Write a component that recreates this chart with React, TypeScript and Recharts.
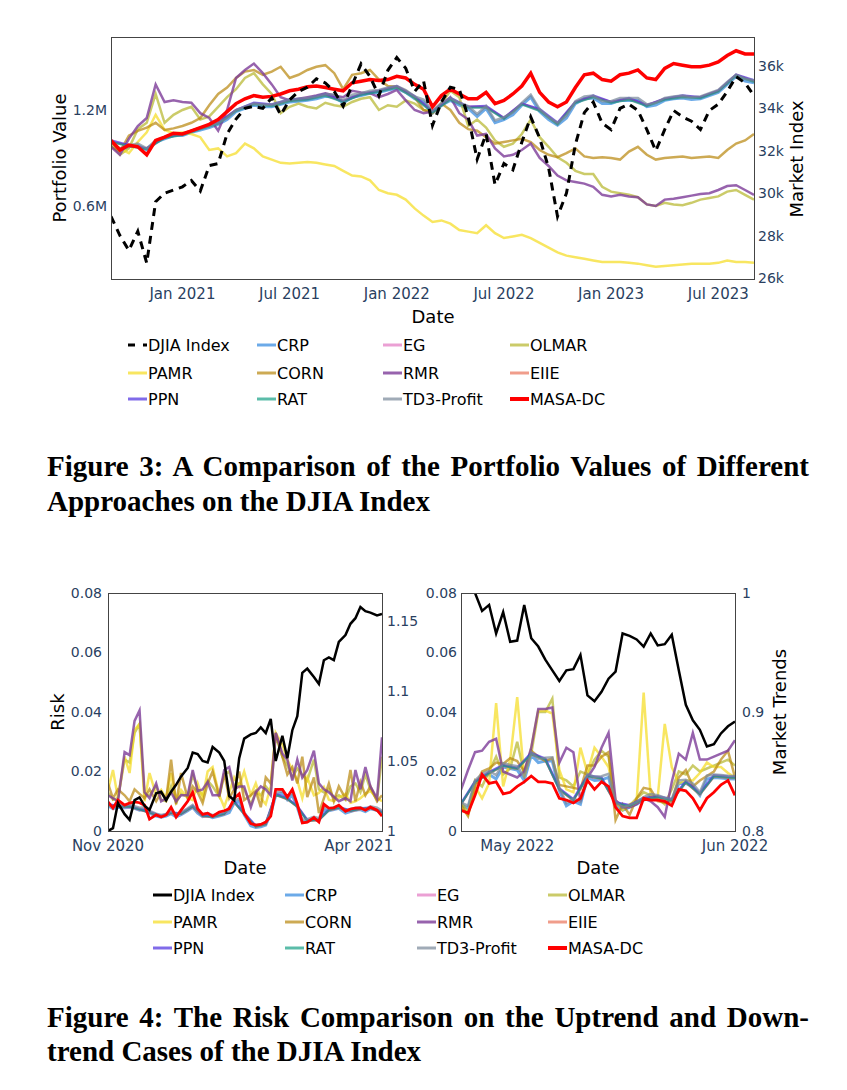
import { LineChart, Line, XAxis, YAxis } from "recharts";

const FONT = "'DejaVu Sans', sans-serif";
const TICK = "#2a3f5f";

// ---------- Figure 3: portfolio values (x = months since 1 Sep 2020) ----------
const monthsHalf = [0, 0.5, 1, 1.5, 2, 2.5, 3, 3.5, 4, 4.5, 5, 5.5, 6, 6.5, 7, 7.5, 8, 8.5, 9, 9.5, 10, 10.5, 11, 11.5, 12, 12.5, 13, 13.5, 14, 14.5, 15, 15.5, 16, 16.5, 17, 17.5, 18, 18.5, 19, 19.5, 20, 20.5, 21, 21.5, 22, 22.5, 23, 23.5, 24, 24.5, 25, 25.5, 26, 26.5, 27, 27.5, 28, 28.5, 29, 29.5, 30, 30.5, 31, 31.5, 32, 32.5, 33, 33.5, 34, 34.5, 35, 35.5, 36];
const monthsWhole = [0, 1, 2, 3, 4, 5, 6, 7, 8, 9, 10, 11, 12, 13, 14, 15, 16, 17, 18, 19, 20, 21, 22, 23, 24, 25, 26, 27, 28, 29, 30, 31, 32, 33, 34, 35, 36];
const dateTicks = [4, 10, 16, 22, 28, 34];
const dateTickLabels = ["Jan 2021", "Jul 2021", "Jan 2022", "Jul 2022", "Jan 2023", "Jul 2023"];
const valueTicks = [0.6, 1.2];
const indexTicks = [26, 28, 30, 32, 34, 36];

// DJIA in thousands, portfolio values in millions
const djiaT = [28.9, 28.0, 27.3, 28.2, 26.7, 29.6, 30.0, 30.15, 30.3, 30.6, 30.1, 31.3, 31.4, 32.8, 33.5, 34.0, 34.1, 34.0, 34.5, 33.7, 34.4, 34.8, 35.0, 35.4, 35.2, 34.8, 34.1, 35.1, 36.1, 35.5, 34.6, 35.8, 36.4, 35.9, 34.8, 35.3, 33.2, 34.3, 35.0, 34.9, 33.6, 31.6, 32.8, 30.4, 31.4, 31.1, 32.4, 33.6, 32.6, 31.2, 28.9, 30.0, 32.3, 33.8, 34.3, 33.3, 33.0, 34.0, 34.2, 33.9, 33.0, 32.0, 33.0, 33.9, 33.6, 33.4, 33.0, 33.9, 34.2, 34.8, 35.5, 35.2, 34.6];
const masaT = [1.01, 0.95, 0.98, 0.97, 0.92, 1.01, 1.03, 1.055, 1.05, 1.07, 1.09, 1.11, 1.14, 1.19, 1.24, 1.27, 1.29, 1.28, 1.285, 1.30, 1.32, 1.33, 1.345, 1.35, 1.34, 1.33, 1.32, 1.37, 1.38, 1.39, 1.385, 1.39, 1.41, 1.40, 1.36, 1.33, 1.22, 1.29, 1.33, 1.30, 1.27, 1.27, 1.31, 1.24, 1.26, 1.30, 1.35, 1.43, 1.31, 1.25, 1.22, 1.25, 1.34, 1.42, 1.43, 1.39, 1.38, 1.42, 1.43, 1.45, 1.40, 1.39, 1.46, 1.49, 1.48, 1.47, 1.47, 1.48, 1.50, 1.54, 1.57, 1.55, 1.55];
const crpT = [1.00, 0.95, 0.97, 0.98, 0.95, 1.00, 1.02, 1.04, 1.04, 1.06, 1.075, 1.09, 1.11, 1.14, 1.19, 1.21, 1.23, 1.22, 1.22, 1.235, 1.25, 1.255, 1.26, 1.27, 1.285, 1.28, 1.245, 1.28, 1.29, 1.305, 1.31, 1.325, 1.335, 1.31, 1.27, 1.25, 1.18, 1.23, 1.26, 1.23, 1.21, 1.16, 1.21, 1.12, 1.14, 1.17, 1.23, 1.28, 1.19, 1.14, 1.105, 1.15, 1.24, 1.27, 1.275, 1.24, 1.24, 1.26, 1.26, 1.26, 1.22, 1.23, 1.26, 1.27, 1.275, 1.265, 1.27, 1.29, 1.31, 1.36, 1.41, 1.38, 1.37];
const td3T = [1.00, 0.96, 0.98, 0.99, 0.96, 1.01, 1.03, 1.05, 1.05, 1.07, 1.09, 1.10, 1.12, 1.15, 1.20, 1.22, 1.24, 1.235, 1.235, 1.25, 1.265, 1.27, 1.275, 1.285, 1.30, 1.295, 1.26, 1.295, 1.305, 1.32, 1.325, 1.34, 1.35, 1.325, 1.285, 1.265, 1.195, 1.245, 1.275, 1.245, 1.225, 1.175, 1.225, 1.135, 1.155, 1.185, 1.245, 1.295, 1.205, 1.155, 1.12, 1.165, 1.255, 1.285, 1.29, 1.255, 1.255, 1.275, 1.275, 1.275, 1.235, 1.245, 1.275, 1.285, 1.29, 1.28, 1.285, 1.305, 1.325, 1.375, 1.42, 1.395, 1.385];
const egT = [1.00, 0.978, 0.958, 1.028, 1.048, 1.083, 1.118, 1.198, 1.238, 1.228, 1.258, 1.268, 1.293, 1.253, 1.298, 1.318, 1.343, 1.278, 1.188, 1.268, 1.218, 1.218, 1.148, 1.238, 1.198, 1.113, 1.248, 1.283, 1.248, 1.268, 1.228, 1.268, 1.283, 1.278, 1.318, 1.418, 1.378];
const eiieT = [1.00, 0.98, 0.96, 1.03, 1.05, 1.085, 1.12, 1.20, 1.24, 1.23, 1.26, 1.27, 1.295, 1.255, 1.30, 1.32, 1.345, 1.28, 1.19, 1.27, 1.22, 1.22, 1.15, 1.24, 1.20, 1.115, 1.25, 1.285, 1.25, 1.27, 1.23, 1.27, 1.285, 1.28, 1.32, 1.42, 1.38];
const ppnT = [1.01, 0.98, 0.96, 1.03, 1.05, 1.09, 1.12, 1.20, 1.245, 1.235, 1.265, 1.27, 1.30, 1.255, 1.30, 1.32, 1.35, 1.285, 1.19, 1.275, 1.22, 1.225, 1.15, 1.24, 1.205, 1.12, 1.25, 1.29, 1.25, 1.275, 1.23, 1.27, 1.29, 1.28, 1.32, 1.42, 1.385];
const ratT = [1.00, 0.974, 0.954, 1.024, 1.044, 1.079, 1.114, 1.194, 1.234, 1.224, 1.254, 1.264, 1.289, 1.249, 1.294, 1.314, 1.339, 1.274, 1.184, 1.264, 1.214, 1.214, 1.144, 1.234, 1.194, 1.109, 1.244, 1.279, 1.244, 1.264, 1.224, 1.264, 1.279, 1.274, 1.314, 1.414, 1.374];
const olmarT = [0.99, 0.92, 0.96, 1.08, 1.12, 1.30, 1.12, 1.17, 1.20, 1.22, 1.14, 1.16, 1.22, 1.28, 1.33, 1.40, 1.43, 1.36, 1.30, 1.18, 1.22, 1.24, 1.22, 1.21, 1.245, 1.23, 1.22, 1.25, 1.27, 1.28, 1.20, 1.23, 1.22, 1.26, 1.24, 1.20, 1.19, 1.24, 1.32, 1.28, 1.10, 1.14, 1.09, 1.01, 0.97, 0.99, 1.05, 1.14, 1.03, 0.97, 0.905, 0.87, 0.82, 0.80, 0.80, 0.72, 0.69, 0.68, 0.67, 0.655, 0.61, 0.60, 0.62, 0.61, 0.605, 0.62, 0.64, 0.65, 0.66, 0.69, 0.70, 0.67, 0.64];
const pamrT = [1.00, 0.96, 0.93, 1.00, 1.06, 1.17, 1.075, 1.055, 1.06, 1.05, 1.03, 0.95, 0.96, 0.91, 0.93, 0.99, 0.96, 0.91, 0.89, 0.87, 0.865, 0.87, 0.875, 0.87, 0.86, 0.85, 0.82, 0.79, 0.785, 0.76, 0.70, 0.68, 0.67, 0.64, 0.585, 0.54, 0.50, 0.51, 0.49, 0.45, 0.44, 0.43, 0.48, 0.43, 0.40, 0.41, 0.42, 0.40, 0.37, 0.34, 0.31, 0.29, 0.28, 0.27, 0.26, 0.25, 0.25, 0.25, 0.245, 0.24, 0.23, 0.22, 0.225, 0.23, 0.235, 0.24, 0.24, 0.24, 0.245, 0.26, 0.25, 0.25, 0.245];
const cornT = [0.97, 0.94, 1.04, 1.07, 1.09, 1.12, 1.075, 1.085, 1.10, 1.12, 1.15, 1.23, 1.30, 1.34, 1.40, 1.44, 1.45, 1.42, 1.44, 1.47, 1.40, 1.42, 1.45, 1.47, 1.48, 1.43, 1.33, 1.42, 1.43, 1.45, 1.39, 1.35, 1.345, 1.32, 1.28, 1.20, 1.18, 1.24, 1.20, 1.12, 1.08, 1.07, 1.03, 0.99, 1.00, 1.01, 1.02, 1.00, 0.95, 0.92, 0.905, 0.93, 0.96, 0.91, 0.90, 0.905, 0.90, 0.89, 0.94, 0.97, 0.92, 0.89, 0.90, 0.905, 0.91, 0.90, 0.905, 0.91, 0.90, 0.95, 0.99, 1.01, 1.05];
const rmrT = [0.97, 0.92, 1.02, 1.10, 1.15, 1.36, 1.25, 1.26, 1.25, 1.245, 1.18, 1.15, 1.07, 1.20, 1.40, 1.45, 1.49, 1.43, 1.36, 1.28, 1.26, 1.27, 1.28, 1.29, 1.305, 1.29, 1.28, 1.32, 1.31, 1.305, 1.28, 1.30, 1.325, 1.26, 1.20, 1.18, 1.19, 1.23, 1.28, 1.18, 1.14, 1.04, 1.05, 0.96, 0.91, 0.92, 0.95, 0.99, 0.90, 0.85, 0.79, 0.76, 0.75, 0.74, 0.72, 0.67, 0.66, 0.67, 0.66, 0.655, 0.61, 0.60, 0.64, 0.645, 0.655, 0.665, 0.675, 0.68, 0.70, 0.725, 0.73, 0.70, 0.67];

// ---------- Figure 4 (left): uptrend, x = days since 1 Nov 2020 ----------
const daysL = [0, 3, 6, 10, 13, 16, 19, 22, 25, 29, 32, 35, 38, 41, 44, 48, 51, 54, 57, 60, 63, 67, 70, 73, 76, 79, 82, 86, 89, 92, 95, 98, 101, 105, 108, 111, 114, 117, 120, 124, 127, 130, 133, 136, 139, 143, 146, 149, 152, 155, 158, 162, 165];
const daysL2 = [0, 6, 13, 19, 25, 32, 38, 44, 51, 57, 63, 70, 76, 82, 89, 95, 101, 108, 114, 120, 127, 133, 139, 146, 152, 158, 165];
const upTicks = [0, 151];
const upTickLabels = ["Nov 2020", "Apr 2021"];
const riskTicks = [0, 0.02, 0.04, 0.06, 0.08];
const upTrendTicks = [1, 1.05, 1.1, 1.15];

const djiaL = [1.000, 1.002, 1.020, 1.012, 1.008, 1.022, 1.024, 1.018, 1.015, 1.027, 1.028, 1.022, 1.028, 1.033, 1.039, 1.045, 1.056, 1.055, 1.050, 1.049, 1.060, 1.056, 1.050, 1.025, 1.022, 1.052, 1.066, 1.069, 1.070, 1.074, 1.070, 1.080, 1.050, 1.068, 1.052, 1.072, 1.082, 1.113, 1.116, 1.110, 1.105, 1.122, 1.124, 1.122, 1.135, 1.140, 1.148, 1.152, 1.160, 1.157, 1.156, 1.154, 1.155];
const masaL = [0.0098, 0.0077, 0.0104, 0.0087, 0.0094, 0.0098, 0.0095, 0.0087, 0.0040, 0.0054, 0.0047, 0.0054, 0.0080, 0.0047, 0.0070, 0.0100, 0.0130, 0.0075, 0.0056, 0.0060, 0.0050, 0.0064, 0.0068, 0.0075, 0.0110, 0.0125, 0.0060, 0.0025, 0.0020, 0.0022, 0.0030, 0.0050, 0.0140, 0.0140, 0.0114, 0.0140, 0.0090, 0.0027, 0.0030, 0.0045, 0.0030, 0.0090, 0.0077, 0.0078, 0.0087, 0.0066, 0.0074, 0.0077, 0.0078, 0.0070, 0.0080, 0.0070, 0.0050];
const crpL = [0.0085, 0.0075, 0.0080, 0.0078, 0.0080, 0.0076, 0.0070, 0.0072, 0.0060, 0.0050, 0.0046, 0.0050, 0.0058, 0.0048, 0.0055, 0.0068, 0.0080, 0.0060, 0.0048, 0.0052, 0.0045, 0.0050, 0.0055, 0.0062, 0.0095, 0.0100, 0.0055, 0.0018, 0.0012, 0.0014, 0.0020, 0.0060, 0.0120, 0.0128, 0.0105, 0.0120, 0.0080, 0.0030, 0.0032, 0.0040, 0.0035, 0.0070, 0.0068, 0.0072, 0.0076, 0.0060, 0.0065, 0.0070, 0.0072, 0.0065, 0.0075, 0.0070, 0.0060];
const td3L = [0.0092, 0.0082, 0.0088, 0.0086, 0.0088, 0.0083, 0.0078, 0.0080, 0.0068, 0.0058, 0.0054, 0.0057, 0.0066, 0.0056, 0.0063, 0.0076, 0.0088, 0.0068, 0.0056, 0.0060, 0.0053, 0.0058, 0.0063, 0.0070, 0.0103, 0.0108, 0.0063, 0.0026, 0.0020, 0.0022, 0.0028, 0.0068, 0.0128, 0.0136, 0.0113, 0.0128, 0.0088, 0.0038, 0.0040, 0.0048, 0.0043, 0.0078, 0.0076, 0.0080, 0.0084, 0.0068, 0.0073, 0.0078, 0.0080, 0.0073, 0.0083, 0.0078, 0.0068];
const egL = [0.0088, 0.0082, 0.0079, 0.0072, 0.0062, 0.0049, 0.0060, 0.0057, 0.0082, 0.0050, 0.0048, 0.0057, 0.0097, 0.0058, 0.0015, 0.0023, 0.0122, 0.0108, 0.0082, 0.0035, 0.0037, 0.0070, 0.0078, 0.0067, 0.0074, 0.0077, 0.0062];
const eiieL = [0.0086, 0.0081, 0.0082, 0.0071, 0.0061, 0.0048, 0.0059, 0.0056, 0.0081, 0.0049, 0.0047, 0.0056, 0.0096, 0.0057, 0.0014, 0.0022, 0.0121, 0.0106, 0.0081, 0.0034, 0.0036, 0.0069, 0.0077, 0.0066, 0.0073, 0.0076, 0.0061];
const ppnL = [0.0090, 0.0084, 0.0083, 0.0074, 0.0064, 0.0051, 0.0062, 0.0059, 0.0084, 0.0052, 0.0050, 0.0059, 0.0099, 0.0060, 0.0017, 0.0025, 0.0124, 0.0110, 0.0084, 0.0037, 0.0039, 0.0072, 0.0080, 0.0069, 0.0076, 0.0079, 0.0064];
const ratL = [0.0087, 0.0082, 0.0081, 0.0072, 0.0062, 0.0048, 0.0060, 0.0057, 0.0082, 0.0050, 0.0047, 0.0057, 0.0097, 0.0057, 0.0014, 0.0022, 0.0122, 0.0107, 0.0082, 0.0034, 0.0037, 0.0070, 0.0078, 0.0067, 0.0074, 0.0077, 0.0062];
const olmarL = [0.0130, 0.0105, 0.0110, 0.0240, 0.0230, 0.0330, 0.0360, 0.0120, 0.0120, 0.0150, 0.0105, 0.0100, 0.0150, 0.0095, 0.0125, 0.0115, 0.0190, 0.0140, 0.0120, 0.0170, 0.0150, 0.0115, 0.0190, 0.0200, 0.0140, 0.0160, 0.0140, 0.0090, 0.0130, 0.0120, 0.0150, 0.0130, 0.0320, 0.0250, 0.0220, 0.0180, 0.0210, 0.0190, 0.0170, 0.0240, 0.0140, 0.0130, 0.0140, 0.0110, 0.0120, 0.0105, 0.0150, 0.0160, 0.0130, 0.0190, 0.0140, 0.0105, 0.0250];
const pamrL = [0.0138, 0.0205, 0.0110, 0.0250, 0.0195, 0.0340, 0.0360, 0.0100, 0.0195, 0.0120, 0.0138, 0.0110, 0.0195, 0.0100, 0.0138, 0.0110, 0.0104, 0.0160, 0.0110, 0.0200, 0.0215, 0.0120, 0.0080, 0.0130, 0.0180, 0.0150, 0.0200, 0.0120, 0.0160, 0.0110, 0.0090, 0.0150, 0.0330, 0.0290, 0.0240, 0.0205, 0.0170, 0.0110, 0.0180, 0.0120, 0.0128, 0.0148, 0.0105, 0.0100, 0.0112, 0.0125, 0.0095, 0.0100, 0.0110, 0.0125, 0.0135, 0.0110, 0.0100];
const cornL = [0.0160, 0.0110, 0.0140, 0.0120, 0.0100, 0.0140, 0.0125, 0.0110, 0.0140, 0.0100, 0.0130, 0.0105, 0.0240, 0.0090, 0.0195, 0.0110, 0.0150, 0.0130, 0.0094, 0.0160, 0.0200, 0.0115, 0.0195, 0.0110, 0.0140, 0.0200, 0.0104, 0.0120, 0.0135, 0.0080, 0.0180, 0.0160, 0.0330, 0.0250, 0.0190, 0.0215, 0.0160, 0.0250, 0.0114, 0.0180, 0.0060, 0.0110, 0.0160, 0.0100, 0.0150, 0.0110, 0.0205, 0.0100, 0.0165, 0.0120, 0.0150, 0.0100, 0.0120];
const rmrL = [0.0120, 0.0110, 0.0100, 0.0265, 0.0255, 0.0370, 0.0405, 0.0130, 0.0110, 0.0160, 0.0100, 0.0110, 0.0130, 0.0100, 0.0120, 0.0120, 0.0205, 0.0135, 0.0140, 0.0165, 0.0120, 0.0120, 0.0205, 0.0215, 0.0140, 0.0150, 0.0150, 0.0080, 0.0130, 0.0150, 0.0140, 0.0120, 0.0330, 0.0260, 0.0240, 0.0170, 0.0240, 0.0180, 0.0205, 0.0270, 0.0160, 0.0140, 0.0130, 0.0115, 0.0100, 0.0110, 0.0100, 0.0205, 0.0140, 0.0215, 0.0150, 0.0110, 0.0315];

// ---------- Figure 4 (right): downtrend, x = days since 23 Apr 2022 ----------
const daysR = [0, 1, 2, 3, 4, 5, 6, 7, 8, 9, 10, 11, 12, 13, 14, 15, 16, 17, 18, 19, 20, 21, 22, 23, 24, 25, 26, 27, 28, 29, 30, 31, 32, 33, 34, 35, 36, 37, 38, 39];
const daysR2 = [0, 2, 4, 6, 8, 10, 12, 14, 16, 18, 20, 22, 24, 26, 28, 30, 32, 34, 36, 38, 39];
const downTicks = [8, 39];
const downTickLabels = ["May 2022", "Jun 2022"];
const downTrendTicks = [0.8, 0.9, 1];

const djiaR = [1.020, 1.010, 1.000, 0.985, 0.990, 0.966, 0.984, 0.959, 0.960, 0.990, 0.962, 0.955, 0.944, 0.935, 0.926, 0.935, 0.936, 0.948, 0.914, 0.909, 0.917, 0.928, 0.934, 0.966, 0.964, 0.961, 0.955, 0.966, 0.956, 0.957, 0.965, 0.935, 0.906, 0.893, 0.885, 0.871, 0.873, 0.882, 0.888, 0.892];
const masaR = [0.0070, 0.0060, 0.0120, 0.0190, 0.0160, 0.0165, 0.0125, 0.0130, 0.0150, 0.0165, 0.0185, 0.0165, 0.0165, 0.0160, 0.0110, 0.0104, 0.0094, 0.0110, 0.0170, 0.0140, 0.0165, 0.0150, 0.0080, 0.0050, 0.0044, 0.0044, 0.0110, 0.0104, 0.0104, 0.0100, 0.0085, 0.0140, 0.0135, 0.0110, 0.0070, 0.0110, 0.0130, 0.0155, 0.0170, 0.0120];
const crpR = [0.0087, 0.0077, 0.0160, 0.0180, 0.0190, 0.0175, 0.0215, 0.0210, 0.0205, 0.0170, 0.0255, 0.0230, 0.0235, 0.0235, 0.0135, 0.0085, 0.0100, 0.0090, 0.0180, 0.0170, 0.0172, 0.0180, 0.0090, 0.0070, 0.0080, 0.0090, 0.0104, 0.0114, 0.0110, 0.0104, 0.0100, 0.0160, 0.0160, 0.0150, 0.0120, 0.0175, 0.0180, 0.0178, 0.0176, 0.0175];
const td3R = [0.0095, 0.0085, 0.0170, 0.0192, 0.0202, 0.0188, 0.0228, 0.0222, 0.0218, 0.0182, 0.0265, 0.0242, 0.0246, 0.0248, 0.0146, 0.0094, 0.0110, 0.0098, 0.0192, 0.0182, 0.0184, 0.0192, 0.0100, 0.0078, 0.0088, 0.0098, 0.0114, 0.0124, 0.0120, 0.0112, 0.0108, 0.0170, 0.0172, 0.0160, 0.0130, 0.0186, 0.0190, 0.0188, 0.0186, 0.0185];
const egR = [0.0090, 0.0165, 0.0195, 0.0220, 0.0210, 0.0258, 0.0240, 0.0140, 0.0104, 0.0184, 0.0176, 0.0094, 0.0084, 0.0108, 0.0114, 0.0104, 0.0164, 0.0124, 0.0184, 0.0180, 0.0179];
const eiieR = [0.0089, 0.0163, 0.0193, 0.0218, 0.0208, 0.0257, 0.0238, 0.0138, 0.0102, 0.0183, 0.0175, 0.0092, 0.0082, 0.0106, 0.0112, 0.0102, 0.0162, 0.0122, 0.0182, 0.0178, 0.0177];
const ppnR = [0.0092, 0.0167, 0.0198, 0.0222, 0.0212, 0.0262, 0.0243, 0.0143, 0.0107, 0.0187, 0.0179, 0.0097, 0.0087, 0.0111, 0.0117, 0.0107, 0.0167, 0.0127, 0.0187, 0.0183, 0.0182];
const ratR = [0.0090, 0.0164, 0.0194, 0.0219, 0.0209, 0.0258, 0.0239, 0.0139, 0.0103, 0.0184, 0.0176, 0.0093, 0.0083, 0.0107, 0.0113, 0.0103, 0.0163, 0.0123, 0.0183, 0.0179, 0.0178];
const olmarR = [0.0100, 0.0060, 0.0170, 0.0150, 0.0200, 0.0250, 0.0190, 0.0210, 0.0300, 0.0190, 0.0260, 0.0400, 0.0400, 0.0445, 0.0180, 0.0170, 0.0150, 0.0200, 0.0190, 0.0240, 0.0270, 0.0250, 0.0090, 0.0080, 0.0085, 0.0110, 0.0130, 0.0120, 0.0110, 0.0090, 0.0140, 0.0200, 0.0190, 0.0220, 0.0200, 0.0210, 0.0220, 0.0230, 0.0240, 0.0220];
const pamrR = [0.0080, 0.0054, 0.0150, 0.0110, 0.0160, 0.0430, 0.0150, 0.0240, 0.0450, 0.0180, 0.0280, 0.0405, 0.0405, 0.0395, 0.0205, 0.0140, 0.0130, 0.0280, 0.0195, 0.0280, 0.0250, 0.0215, 0.0104, 0.0070, 0.0090, 0.0100, 0.0465, 0.0114, 0.0114, 0.0360, 0.0215, 0.0160, 0.0170, 0.0170, 0.0195, 0.0230, 0.0215, 0.0215, 0.0195, 0.0180];
const cornR = [0.0087, 0.0050, 0.0150, 0.0200, 0.0210, 0.0230, 0.0225, 0.0245, 0.0235, 0.0200, 0.0270, 0.0250, 0.0235, 0.0245, 0.0155, 0.0150, 0.0145, 0.0140, 0.0220, 0.0220, 0.0250, 0.0265, 0.0037, 0.0090, 0.0054, 0.0110, 0.0145, 0.0140, 0.0100, 0.0095, 0.0100, 0.0180, 0.0205, 0.0150, 0.0170, 0.0185, 0.0200, 0.0240, 0.0270, 0.0180];
const rmrR = [0.0138, 0.0205, 0.0265, 0.0270, 0.0300, 0.0310, 0.0200, 0.0190, 0.0180, 0.0200, 0.0280, 0.0410, 0.0410, 0.0415, 0.0230, 0.0280, 0.0265, 0.0100, 0.0180, 0.0215, 0.0280, 0.0330, 0.0104, 0.0080, 0.0080, 0.0090, 0.0110, 0.0100, 0.0080, 0.0047, 0.0165, 0.0260, 0.0240, 0.0330, 0.0240, 0.0240, 0.0250, 0.0260, 0.0270, 0.0305];

const legendRows = [
  ["DJIA Index", "CRP", "EG", "OLMAR"],
  ["PAMR", "CORN", "RMR", "EIIE"],
  ["PPN", "RAT", "TD3-Profit", "MASA-DC"],
];

// base colours; the baselines are drawn half-transparent so overlaps darken
const COLORS: Record<string, string> = {
  "DJIA Index": "#000000",
  CRP: "#2e86de",
  EG: "#e377c2",
  OLMAR: "#b5b52a",
  PAMR: "#f5dc1e",
  CORN: "#b8860b",
  RMR: "#7d3c98",
  EIIE: "#e9735a",
  PPN: "#4a2ce0",
  RAT: "#16a085",
  "TD3-Profit": "#778899",
  "MASA-DC": "#ff0000",
};
const OPACITY: Record<string, number> = { "DJIA Index": 1, "MASA-DC": 1, RMR: 0.8 };

type Series = { name: string; xs: number[]; ys: number[]; axis: string; width: number; dash?: string };

const pts = (xs: number[], ys: number[]) => xs.map((x, i) => ({ x, y: ys[i] }));

function drawLines(series: Series[]) {
  return series.map((s) => (
    <Line
      key={s.name}
      name={s.name}
      data={pts(s.xs, s.ys)}
      dataKey="y"
      yAxisId={s.axis}
      type="linear"
      stroke={COLORS[s.name]}
      strokeWidth={s.width}
      strokeOpacity={OPACITY[s.name] ?? 0.7}
      strokeDasharray={s.dash}
      dot={false}
      activeDot={false}
      isAnimationActive={false}
    />
  ));
}

const topSeries: Series[] = [
  { name: "CRP", xs: monthsHalf, ys: crpT, axis: "v", width: 3 },
  { name: "EG", xs: monthsWhole, ys: egT, axis: "v", width: 2.5 },
  { name: "OLMAR", xs: monthsHalf, ys: olmarT, axis: "v", width: 2.5 },
  { name: "PAMR", xs: monthsHalf, ys: pamrT, axis: "v", width: 2.5 },
  { name: "CORN", xs: monthsHalf, ys: cornT, axis: "v", width: 2.5 },
  { name: "RMR", xs: monthsHalf, ys: rmrT, axis: "v", width: 2.5 },
  { name: "EIIE", xs: monthsWhole, ys: eiieT, axis: "v", width: 2 },
  { name: "PPN", xs: monthsWhole, ys: ppnT, axis: "v", width: 2.5 },
  { name: "RAT", xs: monthsWhole, ys: ratT, axis: "v", width: 2 },
  { name: "TD3-Profit", xs: monthsHalf, ys: td3T, axis: "v", width: 2.5 },
  { name: "MASA-DC", xs: monthsHalf, ys: masaT, axis: "v", width: 3.5 },
  { name: "DJIA Index", xs: monthsHalf, ys: djiaT, axis: "m", width: 3, dash: "8 6" },
];

const upSeries: Series[] = [
  { name: "CRP", xs: daysL, ys: crpL, axis: "r", width: 3 },
  { name: "EG", xs: daysL2, ys: egL, axis: "r", width: 2.5 },
  { name: "OLMAR", xs: daysL, ys: olmarL, axis: "r", width: 2.5 },
  { name: "PAMR", xs: daysL, ys: pamrL, axis: "r", width: 2.5 },
  { name: "CORN", xs: daysL, ys: cornL, axis: "r", width: 2.5 },
  { name: "RMR", xs: daysL, ys: rmrL, axis: "r", width: 2.5 },
  { name: "EIIE", xs: daysL2, ys: eiieL, axis: "r", width: 2 },
  { name: "PPN", xs: daysL2, ys: ppnL, axis: "r", width: 2.5 },
  { name: "RAT", xs: daysL2, ys: ratL, axis: "r", width: 2 },
  { name: "TD3-Profit", xs: daysL, ys: td3L, axis: "r", width: 2.5 },
  { name: "MASA-DC", xs: daysL, ys: masaL, axis: "r", width: 2.8 },
  { name: "DJIA Index", xs: daysL, ys: djiaL, axis: "t", width: 2.5 },
];

const downSeries: Series[] = [
  { name: "CRP", xs: daysR, ys: crpR, axis: "r", width: 3 },
  { name: "EG", xs: daysR2, ys: egR, axis: "r", width: 2.5 },
  { name: "OLMAR", xs: daysR, ys: olmarR, axis: "r", width: 2.5 },
  { name: "PAMR", xs: daysR, ys: pamrR, axis: "r", width: 2.5 },
  { name: "CORN", xs: daysR, ys: cornR, axis: "r", width: 2.5 },
  { name: "RMR", xs: daysR, ys: rmrR, axis: "r", width: 2.5 },
  { name: "EIIE", xs: daysR2, ys: eiieR, axis: "r", width: 2 },
  { name: "PPN", xs: daysR2, ys: ppnR, axis: "r", width: 2.5 },
  { name: "RAT", xs: daysR2, ys: ratR, axis: "r", width: 2 },
  { name: "TD3-Profit", xs: daysR, ys: td3R, axis: "r", width: 2.5 },
  { name: "MASA-DC", xs: daysR, ys: masaR, axis: "r", width: 2.8 },
  { name: "DJIA Index", xs: daysR, ys: djiaR, axis: "t", width: 2.5 },
];

const xTick = { fill: TICK, fontSize: 15, fontFamily: FONT };
const yTick = { fill: TICK, fontSize: 14, fontFamily: FONT };

function PortfolioChart() {
  return (
    <LineChart width={847} height={330} margin={{ top: 37, right: 33, bottom: 21, left: 51 }}>
      <XAxis type="number" dataKey="x" domain={[0, 36]} ticks={dateTicks} interval={0}
        tickFormatter={(v) => dateTickLabels[dateTicks.indexOf(v)]}
        axisLine={false} tickLine={false} tickSize={0} tickMargin={9} height={30} tick={xTick} allowDataOverflow />
      <YAxis yAxisId="v" domain={[0.144, 1.656]} ticks={valueTicks} tickFormatter={(v) => `${v}M`}
        axisLine={false} tickLine={false} tickSize={0} tickMargin={4} width={60} tick={yTick} allowDataOverflow />
      <YAxis yAxisId="m" orientation="right" domain={[25.95, 37.37]} ticks={indexTicks} tickFormatter={(v) => `${v}k`}
        axisLine={false} tickLine={false} tickSize={0} tickMargin={4} width={60} tick={yTick} allowDataOverflow />
      {drawLines(topSeries)}
    </LineChart>
  );
}

function UptrendChart() {
  return (
    <LineChart width={460} height={330} margin={{ top: 33, right: 28, bottom: 29, left: 58 }}>
      <XAxis type="number" dataKey="x" domain={[0, 165]} ticks={upTicks} interval={0}
        tickFormatter={(v) => upTickLabels[upTicks.indexOf(v)]}
        axisLine={false} tickLine={false} tickSize={0} tickMargin={9} height={30} tick={xTick} allowDataOverflow />
      <YAxis yAxisId="r" domain={[0, 0.08]} ticks={riskTicks}
        axisLine={false} tickLine={false} tickSize={0} tickMargin={6} width={50} tick={yTick} allowDataOverflow />
      <YAxis yAxisId="t" orientation="right" domain={[1, 1.17]} ticks={upTrendTicks}
        axisLine={false} tickLine={false} tickSize={0} tickMargin={5} width={50} tick={yTick} allowDataOverflow />
      {drawLines(upSeries)}
    </LineChart>
  );
}

function DowntrendChart() {
  return (
    <LineChart width={447} height={330} margin={{ top: 33, right: 62, bottom: 29, left: 11 }}>
      <XAxis type="number" dataKey="x" domain={[0, 39]} ticks={downTicks} interval={0}
        tickFormatter={(v) => downTickLabels[downTicks.indexOf(v)]}
        axisLine={false} tickLine={false} tickSize={0} tickMargin={9} height={30} tick={xTick} allowDataOverflow />
      <YAxis yAxisId="r" domain={[0, 0.08]} ticks={riskTicks}
        axisLine={false} tickLine={false} tickSize={0} tickMargin={4} width={50} tick={yTick} allowDataOverflow />
      <YAxis yAxisId="t" orientation="right" domain={[0.8, 1]} ticks={downTrendTicks}
        axisLine={false} tickLine={false} tickSize={0} tickMargin={7} width={50} tick={yTick} allowDataOverflow />
      {drawLines(downSeries)}
    </LineChart>
  );
}

function Frame({ left, top, width, height }: { left: number; top: number; width: number; height: number }) {
  return (
    <div style={{ position: "absolute", left, top, width, height, boxSizing: "border-box", border: "1px solid #444", pointerEvents: "none" }} />
  );
}

function Title({ x, y, text, angle = 0 }: { x: number; y: number; text: string; angle?: number }) {
  return (
    <div style={{
      position: "absolute", left: x, top: y, transform: `translate(-50%, -50%) rotate(${angle}deg)`,
      fontFamily: FONT, fontSize: 18, color: "#000", whiteSpace: "nowrap", lineHeight: 1,
    }}>
      {text}
    </div>
  );
}

function Legend({ colX, rowY, dashedDjia }: { colX: number[]; rowY: number[]; dashedDjia: boolean }) {
  return (
    <>
      {legendRows.map((row, r) =>
        row.map((name, c) => (
          <div key={name} style={{ position: "absolute", left: colX[c], top: rowY[r] - 10, height: 20, display: "flex", alignItems: "center", fontFamily: FONT, fontSize: 16, color: "#000", whiteSpace: "nowrap" }}>
            <svg width={19} height={8} style={{ marginRight: 1 }}>
              <line x1={0} y1={4} x2={19} y2={4} stroke={COLORS[name]}
                strokeWidth={name === "MASA-DC" ? 4 : 3}
                strokeOpacity={OPACITY[name] ?? 0.7}
                strokeDasharray={name === "DJIA Index" && dashedDjia ? "7 8" : undefined} />
            </svg>
            {name}
          </div>
        ))
      )}
    </>
  );
}

const captionStyle = {
  position: "absolute" as const, left: 47, width: 762, fontFamily: "'Liberation Serif', serif",
  fontWeight: 700, fontSize: 29, lineHeight: "35px", color: "#000", whiteSpace: "nowrap" as const,
};

export default function App() {
  return (
    <div style={{ position: "absolute", left: 0, top: 0, width: 847, height: 1090, background: "#fff", overflow: "hidden" }}>
      <div style={{ position: "absolute", left: 0, top: 0 }}><PortfolioChart /></div>
      <Frame left={111} top={37} width={644} height={243} />
      <Title x={433} y={317} text="Date" />
      <Title x={60} y={158} text="Portfolio Value" angle={-90} />
      <Title x={797} y={159} text="Market Index" angle={-90} />
      <Legend colX={[128, 257, 383, 510]} rowY={[345, 373, 399]} dashedDjia />
      <div style={{ ...captionStyle, top: 449, textAlign: "justify", textAlignLast: "justify" }}>
        Figure 3: A Comparison of the Portfolio Values of Different
      </div>
      <div style={{ ...captionStyle, top: 484 }}>Approaches on the DJIA Index</div>

      <div style={{ position: "absolute", left: 0, top: 560 }}><UptrendChart /></div>
      <div style={{ position: "absolute", left: 400, top: 560 }}><DowntrendChart /></div>
      <Frame left={108} top={593} width={275} height={239} />
      <Frame left={461} top={593} width={275} height={239} />
      <Title x={58} y={712} text="Risk" angle={-90} />
      <Title x={245} y={868} text="Date" />
      <Title x={598} y={868} text="Date" />
      <Title x={780} y={712} text="Market Trends" angle={-90} />
      <Legend colX={[153, 285, 417, 548]} rowY={[895, 922, 948]} dashedDjia={false} />
      <div style={{ ...captionStyle, top: 1000, textAlign: "justify", textAlignLast: "justify" }}>
        Figure 4: The Risk Comparison on the Uptrend and Down-
      </div>
      <div style={{ ...captionStyle, top: 1034 }}>trend Cases of the DJIA Index</div>
    </div>
  );
}
